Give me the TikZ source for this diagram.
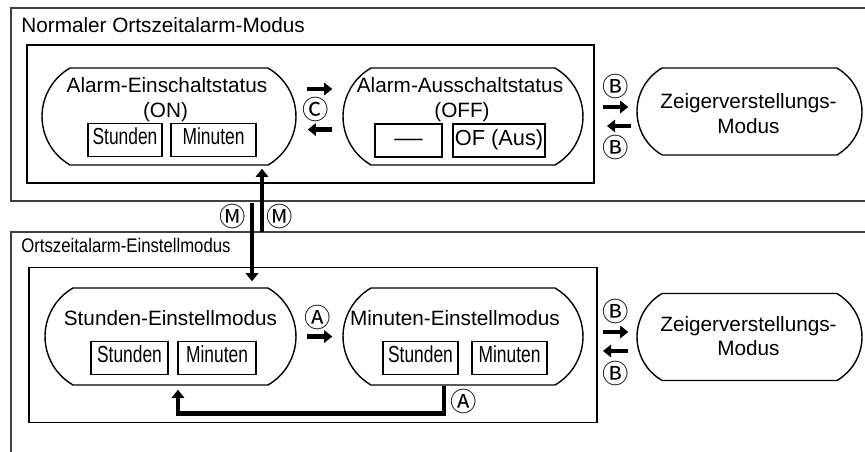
\documentclass[tikz,border=0pt]{standalone}
\usepackage{graphicx}
\usepackage{fontspec}
\setmainfont{Liberation Sans}
\newfontfamily\narrowfont[FakeStretch=0.75]{Liberation Sans}
\newfontfamily\subfont[FakeStretch=0.85]{Liberation Sans}
\newfontfamily\circfont{Noto Sans CJK SC}
\usetikzlibrary{shapes.misc,arrows.meta,calc}

\def\pxl{0.2mm}
\tikzset{
	outer/.style={draw=black!75, line width=0.8pt},
	frame/.style={draw, line width=1.1pt, inner sep=0pt},
	pill/.style={draw, line width=0.8pt, rounded rectangle, rounded rectangle arc length=120, inner sep=0pt},
	tbox/.style={draw, line width=0.8pt, inner sep=0pt, minimum height=33*\pxl, text height=0.75em, text depth=0.2em, font=\fontsize{12.4}{14}\selectfont},
	nbox/.style={tbox, font=\narrowfont\fontsize{13.2}{15}\selectfont},
	big/.style={inner sep=0pt, anchor=base, font=\fontsize{11.8}{14}\selectfont},
	key/.style={inner sep=0pt, font=\circfont\fontsize{15}{16}\selectfont},
	arr/.style={line width=2.6pt, -{Triangle[length=4.6pt,width=7pt]}}
}

\begin{document}
\begin{tikzpicture}[x=\pxl, y=-\pxl]
	\useasboundingbox (0,0) rectangle (865,452);
	
	% outer frames (open to the right)
	\draw[outer] (866,8) -- (11,8) -- (11,201) -- (866,201);
	\draw[outer] (866,232) -- (11,232) -- (11,453);
	\node[big, anchor=base west] (titleA) at (21,32) {Normaler Ortszeitalarm-Modus};
	\node[big, anchor=base west, font=\subfont\fontsize{11.2}{14}\selectfont] (titleB) at (21,252) {Ortszeitalarm-Einstellmodus};
	
	\node[frame, minimum width=567*\pxl, minimum height=138*\pxl] (grpA) at (310.5,114) {};
	\node[frame, minimum width=568*\pxl, minimum height=155*\pxl] (grpB) at (313,345) {};
	
	% normal mode
	\node[pill, minimum width=254*\pxl, minimum height=97*\pxl] (on) at (169,116.5) {};
	\node[big] (onT) at (167,92) {Alarm-Einschaltstatus};
	\node[big] (onS) at (165.5,117.5) {(ON)};
	\node[nbox, minimum width=74*\pxl] (onH) at (125,140) {Stunden};
	\node[nbox, minimum width=85*\pxl] (onM) at (213.5,140) {Minuten};
	
	\node[pill, minimum width=240*\pxl, minimum height=97*\pxl] (off) at (463,116.5) {};
	\node[big] (offT) at (460,92) {Alarm-Ausschaltstatus};
	\node[big] (offS) at (462,117.5) {(OFF)};
	\node[tbox, minimum width=67*\pxl] (offH) at (408.5,140.5) {\scalebox{1.3}[1]{—}};
	\node[tbox, minimum width=92*\pxl] (offM) at (499,140.5) {OF (Aus)};
	
	\node[pill, minimum width=225*\pxl, minimum height=87*\pxl] (zeigerA) at (749.5,111.5) {};
	\node[big] (zA1) at (748.5,108) {Zeigerverstellungs-};
	\node[big] (zA2) at (748.5,133) {Modus};
	
	% setting mode
	\node[pill, minimum width=251*\pxl, minimum height=97*\pxl] (std) at (170.5,336.5) {};
	\node[big] (stdT) at (170.5,325) {Stunden-Einstellmodus};
	\node[nbox, minimum width=77*\pxl] (stdH) at (129.5,358) {Stunden};
	\node[nbox, minimum width=78*\pxl] (stdM) at (217,358) {Minuten};
	
	\node[pill, minimum width=240*\pxl, minimum height=97*\pxl] (min) at (463,336.5) {};
	\node[big] (minT) at (455,325) {Minuten-Einstellmodus};
	\node[nbox, minimum width=75*\pxl] (minH) at (420.5,358) {Stunden};
	\node[nbox, minimum width=75*\pxl] (minM) at (509.5,358) {Minuten};
	
	\node[pill, minimum width=225*\pxl, minimum height=87*\pxl] (zeigerB) at (749.5,337) {};
	\node[big] (zB1) at (748.5,331.5) {Zeigerverstellungs-};
	\node[big] (zB2) at (748.5,355.5) {Modus};
	
	% buttons
	\node[key] (kC) at (316,109) {Ⓒ};
	\node[key] (kA1) at (318,317.5) {Ⓐ};
	\node[key] (kA2) at (464,401.5) {Ⓐ};
	\node[key] (kM1) at (233,216.5) {Ⓜ};
	\node[key] (kM2) at (280,216.5) {Ⓜ};
	\foreach \y/\n in {86/kB1,147.5/kB2,311.5/kB3,373.5/kB4}
		\node[key] (\n) at (616,\y) {Ⓑ};
	
	% transitions
	\draw[arr] ($(on.east)+(10,-27.5)$) -- ($(off.west)+(-10,-27.5)$);
	\draw[arr] ($(off.west)+(-10,13)$) -- ($(on.east)+(11,13)$);
	\draw[arr] ($(grpA.east |- zeigerA.west)+(8,-4.5)$) -- ($(zeigerA.west)+(-8,-4.5)$);
	\draw[arr] ($(zeigerA.west)+(-5,14.5)$) -- ($(grpA.east |- zeigerA.west)+(12,14.5)$);
	\draw[arr] ($(grpB.east |- zeigerB.west)+(5,-5)$) -- ($(zeigerB.west)+(-8,-5)$);
	\draw[arr] ($(zeigerB.west)+(-8,14)$) -- ($(grpB.east |- zeigerB.west)+(5,14)$);
	
	\coordinate (mUp) at (262,232);
	\coordinate (mDn) at (252,203);
	\draw[arr] (mUp) -- ($(mUp |- on.south)+(0,3)$);
	\draw[arr] (mDn) -- ($(mDn |- std.north)+(0,-6)$);
	
	\draw[arr] ($(std.east)+(10.5,0)$) -- ($(min.west)+(-10,0)$);
	\draw[arr] ($(min.south)+(-19,0)$) -- ++(0,28) -| ($(std.south)+(7.5,4)$);
\end{tikzpicture}
\end{document}
